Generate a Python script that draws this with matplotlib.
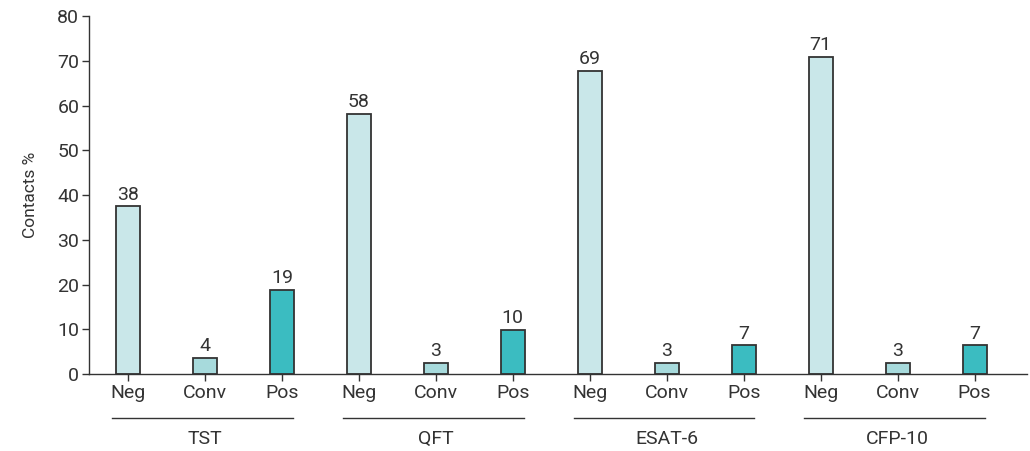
import numpy as np
import matplotlib.pyplot as plt

plt.rcParams['font.family'] = ['Roboto', 'DejaVu Sans']

groups = ['TST', 'QFT', 'ESAT-6', 'CFP-10']
results = ['Neg', 'Conv', 'Pos']
# bar heights as drawn, and the printed (rounded) labels
heights = [[37.5, 3.6, 18.8],
           [58.2, 2.5, 9.8],
           [67.8, 2.5, 6.4],
           [70.8, 2.5, 6.4]]
labels = [[38, 4, 19],
          [58, 3, 10],
          [69, 3, 7],
          [71, 3, 7]]
colors = ['#c9e7e9', '#a7dadc', '#3bbcc1']
text_col = '#333333'
fs = 14

fig = plt.figure(figsize=(10.3, 4.51), dpi=100)
ax = fig.add_axes([0.0864, 0.1707, 0.9106, 0.7938])

xs = []
xlabels = []
for g, grp in enumerate(groups):
    for r, res in enumerate(results):
        x = g * 3 + r
        h = heights[g][r]
        ax.bar(x, h, width=0.31, color=colors[r], edgecolor='#333333', linewidth=1.3, zorder=2)
        ax.text(x, h + 0.6, str(labels[g][r]), ha='center', va='bottom', fontsize=fs, color=text_col)
        xs.append(x)
        xlabels.append(res)
    # group underline and name
    x0 = g * 3 - 0.21
    x1 = g * 3 + 2 + 0.14
    ax.plot([x0, x1], [-0.123, -0.123], transform=ax.get_xaxis_transform(),
            color=text_col, linewidth=1.0, clip_on=False)
    ax.text(g * 3 + 1, -0.155, grp, transform=ax.get_xaxis_transform(),
            ha='center', va='top', fontsize=fs, color=text_col)

ax.set_xticks(xs)
ax.set_xticklabels(xlabels, fontsize=fs, color=text_col)
ax.set_xlim(-0.506, 11.68)
ax.set_ylim(0, 80)
ax.set_yticks(np.arange(0, 81, 10))
ax.tick_params(axis='y', labelsize=fs, labelcolor=text_col, length=5, width=1.0, color=text_col, pad=2)
ax.tick_params(axis='x', length=5, width=1.0, color=text_col, pad=2)
ax.set_ylabel('Contacts %', fontsize=12.5, color=text_col, labelpad=14)
for s in ['top', 'right']:
    ax.spines[s].set_visible(False)
for s in ['left', 'bottom']:
    ax.spines[s].set_color(text_col)
    ax.spines[s].set_linewidth(1.0)

fig.savefig('out.png', dpi=100)
